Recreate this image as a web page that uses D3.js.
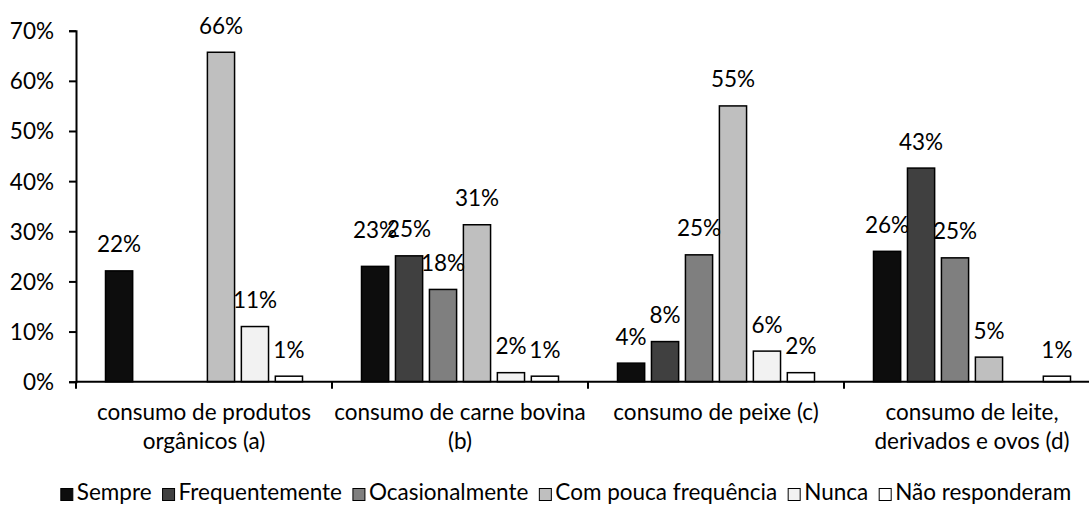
<!DOCTYPE html>
<html>
<head>
<meta charset="utf-8">
<script src="https://cdn.jsdelivr.net/npm/d3@7"></script>
<style>
  body { margin: 0; background: #fff; }
  text { font-family: Lato, "Open Sans", sans-serif; fill: #000; }
</style>
</head>
<body>
<svg id="chart" width="1089" height="507"></svg>
<script>
// categories (x axis, two lines each)
const categories = [
  ["consumo de produtos", "orgânicos (a)"],
  ["consumo de carne bovina", "(b)"],
  ["consumo de peixe (c)"],
  ["consumo de leite,", "derivados e ovos (d)"]
]
const series = ["Sempre", "Frequentemente", "Ocasionalmente", "Com pouca frequência", "Nunca", "Não responderam"]
const colors = ["#0d0d0d", "#404040", "#7f7f7f", "#bfbfbf", "#f2f2f2", "#ffffff"]
// values in %, null = no bar
const sempre = [22.1, 23.0, 3.7, 26.0]
const frequentemente = [null, 25.1, 8.0, 42.6]
const ocasionalmente = [null, 18.4, 25.3, 24.7]
const comPouca = [65.7, 31.3, 55.0, 4.9]
const nunca = [11.0, 1.8, 6.1, null]
const naoResponderam = [1.1, 1.1, 1.8, 1.1]
const yTicks = [0, 10, 20, 30, 40, 50, 60, 70]

const values = [sempre, frequentemente, ocasionalmente, comPouca, nunca, naoResponderam]

const svg = d3.select("#chart")
const plotLeft = 76, plotRight = 1100, plotTop = 30.7, plotBottom = 381.7
const fs = 22.5

let x0 = d3.scaleBand()//category bands
    .domain(d3.range(categories.length))
    .range([plotLeft, plotRight])
    .padding(0)

let groupPad = 29.5
let x1 = d3.scaleBand()
    .domain(d3.range(series.length))
    .range([groupPad, x0.bandwidth() - groupPad])
    .paddingInner(0.2)
    .paddingOuter(0)

let y = d3.scaleLinear()
    .domain([0, 70])
    .range([plotBottom, plotTop])

// y axis
let yAxis = svg.append("g")
    .attr("transform", "translate(" + plotLeft + ",0)")
    .call(d3.axisLeft(y).tickValues(yTicks).tickSize(7).tickPadding(15).tickFormat(d => d + "%"))
yAxis.select(".domain").attr("stroke", "#000").attr("stroke-width", 2)
yAxis.selectAll(".tick line").attr("stroke", "#000").attr("stroke-width", 2)
yAxis.selectAll(".tick text").style("font-family", "Lato").style("font-size", fs + "px").attr("fill", "#000").attr("dy", "0.35em")

// bars
let flat = []
values.forEach(function(arr, s){
  arr.forEach(function(v, c){
    if (v !== null) flat.push({s: s, c: c, v: v})
  })
})

svg.append("g").selectAll("rect")
    .data(flat)
    .enter().append("rect")
    .attr("x", d => x0(d.c) + x1(d.s))
    .attr("y", d => y(d.v))
    .attr("width", x1.bandwidth())
    .attr("height", d => y(0) - y(d.v))
    .attr("fill", d => colors[d.s])
    .attr("stroke", "#000")
    .attr("stroke-width", 1.5)

// data labels; "23%" in (b) was nudged up in the original to avoid overlap
svg.append("g").selectAll("text")
    .data(flat)
    .enter().append("text")
    .attr("x", d => x0(d.c) + x1(d.s) + x1.bandwidth() / 2)
    .attr("y", d => y(d.v) - 18.5 - ((d.s === 0 && d.c === 1) ? 9.5 : 0))
    .attr("text-anchor", "middle")
    .style("font-size", fs + "px")
    .text(d => Math.round(d.v) + "%")

// x axis line and ticks
let xAxis = svg.append("g")
xAxis.append("line")
    .attr("x1", plotLeft).attr("x2", plotRight)
    .attr("y1", y(0)).attr("y2", y(0))
    .attr("stroke", "#000").attr("stroke-width", 2)
xAxis.selectAll(".xt")
    .data(d3.range(categories.length + 1))
    .enter().append("line")
    .attr("x1", d => plotLeft + d * x0.step()).attr("x2", d => plotLeft + d * x0.step())
    .attr("y1", y(0)).attr("y2", y(0) + 7)
    .attr("stroke", "#000").attr("stroke-width", 2)

// category labels
let catText = xAxis.selectAll(".cat")
    .data(categories)
    .enter().append("text")
    .attr("text-anchor", "middle")
    .style("font-size", fs + "px")
catText.each(function(lines, i){
  let t = d3.select(this)
  lines.forEach(function(l, k){
    t.append("tspan")
      .attr("x", x0(i) + x0.bandwidth() / 2)
      .attr("y", 420 + k * 28.5)
      .text(l)
  })
})

// legend
let legend = svg.append("g")
let lx = 0
const itemGap = 11
series.forEach(function(name, i){
  let g = legend.append("g")
  g.append("rect")
    .attr("x", 0).attr("y", -11.5)
    .attr("width", 12).attr("height", 12)
    .attr("fill", colors[i])
    .attr("stroke", "#000")
    .attr("stroke-width", 1)
  let t = g.append("text")
    .attr("x", 16)
    .attr("y", 0)
    .style("font-size", fs + "px")
    .text(name)
  let w = 16 + t.node().getComputedTextLength()
  g.attr("transform", "translate(" + lx + ",500)")
  lx += w + itemGap
})
lx -= itemGap
legend.attr("transform", "translate(" + ((61 + 1071) / 2 - lx / 2) + ",0)")
</script>
</body>
</html>
